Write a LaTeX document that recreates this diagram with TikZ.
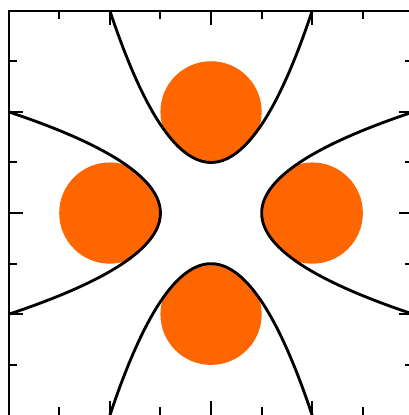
\documentclass[tikz,border=0pt]{standalone}
\usepackage{tikz}
\usetikzlibrary{calc}
\definecolor{warmorange}{RGB}{255, 102, 0}
\tikzset{
  frameline/.style={line width=1.1pt, black},
  tickline/.style={line width=1.1pt, black},
  levelcurve/.style={line width=1.6pt, black, line join=round},
  blob/.style={fill=warmorange}
}

\begin{document}
\begin{tikzpicture}
    \useasboundingbox (-4.17,-3.99) rectangle (3.91,4.21);

    % four disks, each cut by its own curve, turned by 90 degrees
    \foreach \ang in {0,90,180,270}{
      \begin{scope}[rotate=\ang]
        \begin{scope}
          \clip plot[domain=-2:2, samples=80] (\x, {1+0.75*\x*\x}) -- cycle;
          \fill[blob] (0,2) circle (1);
        \end{scope}
        \draw[levelcurve] plot[domain=-2:2, samples=80] (\x, {1+0.75*\x*\x});
      \end{scope}
    }

    % frame with ticks
    \draw[frameline] (-4,-4) rectangle (4,4);
    \foreach \t in {-3,...,3}{
      \pgfmathsetmacro{\len}{ifthenelse(mod(\t,2)==0, 0.28, 0.16)}
      \draw[tickline] (\t,4) -- ++(0,-\len);
      \draw[tickline] (\t,-4) -- ++(0,\len);
      \draw[tickline] (-4,\t) -- ++(\len,0);
      \draw[tickline] (4,\t) -- ++(-\len,0);
    }
\end{tikzpicture}
\end{document}
